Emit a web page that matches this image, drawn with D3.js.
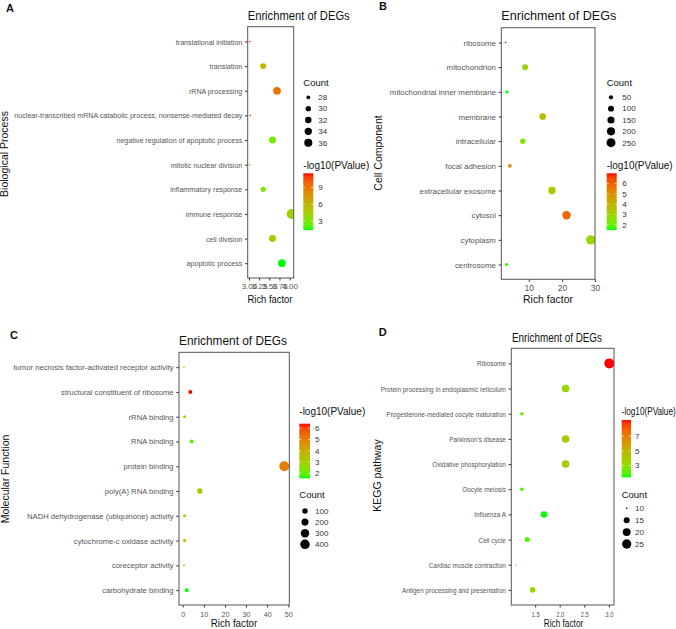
<!DOCTYPE html>
<html><head><meta charset="utf-8">
<script src="https://cdn.jsdelivr.net/npm/d3@7"></script>
<style>body{margin:0;background:#fff}</style>
</head><body><svg id="c" width="676" height="629" style="background:#fff"></svg>
<script>
// ---------- DATA ----------
const bpTerms = ["translational initiation","translation","rRNA processing","nuclear-transcribed mRNA catabolic process, nonsense-mediated decay","negative regulation of apoptotic process","mitotic nuclear division","inflammatory response","immune response","cell division","apoptotic process"];
const bpRich  = [3.02,3.35,3.69,3.03,3.58,3.02,3.35,4.05,3.58,3.81];
const bpCount = [27,31,35,27,33,27,30,42,33,35];
const bpLogP  = [11.5,6.0,9.2,11.0,2.8,4.0,2.9,4.2,4.4,1.4];
const bpXTicks = [3.00,3.25,3.50,3.75,4.00];
const bpCountBreaks = [28,30,32,34,36];
const bpColorBreaks = [3,6,9];

const ccTerms = ["ribosome","mitochondrion","mitochondrial inner membrane","membrane","intracellular","focal adhesion","extracellular exosome","cytosol","cytoplasm","centrosome"];
const ccRich  = [3.0,8.9,3.4,14.2,8.2,4.3,17.0,21.4,28.7,3.3];
const ccCount = [20,100,30,130,80,40,160,220,280,30];
const ccLogP  = [7.0,3.0,1.5,3.8,2.4,5.0,3.3,6.0,3.0,1.6];
const ccXTicks = [10,20,30];
const ccCountBreaks = [50,100,150,200,250];
const ccColorBreaks = [2,3,4,5,6];

const mfTerms = ["tumor necrosis factor-activated receptor activity","structural constituent of ribosome","rRNA binding","RNA binding","protein binding","poly(A) RNA binding","NADH dehydrogenase (ubiquinone) activity","cytochrome-c oxidase activity","coreceptor activity","carbohydrate binding"];
const mfRich  = [0.6,3.6,0.9,4.2,48.1,8.1,0.9,0.9,0.6,1.9];
const mfCount = [5,42,18,42,460,98,18,18,6,40];
const mfLogP  = [2.0,6.4,2.5,1.9,5.0,3.2,2.6,4.0,2.6,1.55];
const mfXTicks = [0,10,20,30,40,50];
const mfCountBreaks = [100,200,300,400];
const mfColorBreaks = [2,3,4,5,6];

const kgTerms = ["Ribosome","Protein processing in endoplasmic reticulum","Progesterone-mediated oocyte maturation","Parkinson's disease","Oxidative phosphorylation","Oocyte meiosis","Influenza A","Cell cycle","Cardiac muscle contraction","Antigen processing and presentation"];
const kgRich  = [3.01,2.12,1.23,2.12,2.12,1.23,1.68,1.34,1.11,1.45];
const kgCount = [28,19,11,19,19,11,16,13,10,14];
const kgLogP  = [9.2,3.5,2.3,4.2,4.2,1.9,1.4,1.8,2.6,3.5];
const kgXTicks = [1.5,2.0,2.5,3.0];
const kgCountBreaks = [10,15,20,25];
const kgColorBreaks = [3,5,7];

const panelLetters = ["A","B","C","D"];
const yTitles = ["Biological Process","Cell Component","Molecular Function","KEGG pathway"];
const mainTitle = "Enrichment of DEGs";
const xTitle = "Rich factor";
const countTitle = "Count";
const colorTitle = "-log10(PValue)";

// ---------- LAYOUT ----------
const FONT = '"Liberation Sans", Arial, sans-serif';
const panels = [
  {terms:bpTerms, rich:bpRich, count:bpCount, logp:bpLogP, xticks:bpXTicks, cb:bpCountBreaks, pb:bpColorBreaks, fmt:d3.format(".2f"),
   box:{x0:247.7,y0:26.7,x1:293.7,y1:278}, letter:{x:6,y:12}, title:{x:247.7,y:19.5,len:102},
   yt:{x:4.8,y:154}, xt:{cx:270,y:303,len:45}, labFont:8, labK:0.89, tickFont:8, tickK:1, tickPad:2.8,
   rmin:0.8, rmax:5, countFirst:true,
   cl:{x:303.3,titleY:82.3,y0:97.3,dy:11.35,dotX:308.3,labX:318.3},
   pl:{x:303.3,titleY:165,b0:173.3,b1:230,w:10,labX:318.3,len:null}},
  {terms:ccTerms, rich:ccRich, count:ccCount, logp:ccLogP, xticks:ccXTicks, cb:ccCountBreaks, pb:ccColorBreaks, fmt:d3.format("d"),
   box:{x0:501.3,y0:27.7,x1:595,y1:279.3}, letter:{x:379,y:10}, title:{x:501.3,y:20,len:115},
   yt:{x:378.7,y:153}, xt:{cx:548,y:303,len:50}, labFont:8.1, labK:0.97, tickFont:8.5, tickK:1, tickPad:2.8,
   rmin:0.8, rmax:4.7, countFirst:true,
   cl:{x:606.7,titleY:82.3,y0:97.3,dy:11.35,dotX:611,labX:622.3},
   pl:{x:606.7,titleY:165,b0:173.3,b1:230,w:10,labX:622.3,len:null}},
  {terms:mfTerms, rich:mfRich, count:mfCount, logp:mfLogP, xticks:mfXTicks, cb:mfCountBreaks, pb:mfColorBreaks, fmt:d3.format("d"),
   box:{x0:179,y0:352.3,x1:289.3,y1:605}, letter:{x:10,y:339}, title:{x:179,y:345,len:108},
   yt:{x:5.5,y:479}, xt:{cx:234,y:627,len:46.6}, labFont:7.8, labK:0.98, tickFont:8, tickK:0.9, tickPad:3.5,
   rmin:0.8, rmax:5, countFirst:false,
   cl:{x:299.3,titleY:495,y0:511,dy:11.1,dotX:305,labX:315},
   pl:{x:299.3,titleY:411.7,b0:423.7,b1:478.3,w:10.7,labX:315,len:null}},
  {terms:kgTerms, rich:kgRich, count:kgCount, logp:kgLogP, xticks:kgXTicks, cb:kgCountBreaks, pb:kgColorBreaks, fmt:d3.format(".1f"),
   box:{x0:511.3,y0:348.3,x1:614,y1:605}, letter:{x:378.7,y:336}, title:{x:512,y:341.7,len:90},
   yt:{x:377.7,y:475.5}, xt:{cx:563.5,y:627,len:39.6}, labFont:8, labK:0.8, tickFont:7.5, tickK:0.78, tickPad:4.5,
   rmin:0.8, rmax:5, countFirst:false,
   cl:{x:621.7,titleY:494.3,y0:508.3,dy:11.9,dotX:626.7,labX:635},
   pl:{x:621.7,titleY:411,b0:420,b1:477.3,w:9.3,labX:635,len:54}}
];

const svg = d3.select("#c");
const defs = svg.append("defs");

function condense(sel, k){
  if (k >= 1) return;
  sel.each(function(){
    const L = this.getComputedTextLength();
    d3.select(this).attr("textLength", L*k).attr("lengthAdjust","spacingAndGlyphs");
  });
}

panels.forEach((p, i) => {
  const g = svg.append("g");
  const ext = d3.extent(p.rich), pad = (ext[1]-ext[0])*0.05;
  const x = d3.scaleLinear().domain([ext[0]-pad, ext[1]+pad]).range([p.box.x0, p.box.x1]);
  const y = d3.scalePoint().domain(p.terms).range([p.box.y0, p.box.y1]).padding(0.6);
  const cExt = d3.extent(p.logp);
  const color = d3.scaleLinear().domain(cExt).range(["#00ff00","#ff0000"]).interpolate(d3.interpolateLab);
  const nExt = d3.extent(p.count);
  const tS = d3.scaleLinear().domain(nExt).range([0,1]);
  const rS = d3.scaleLinear().domain([0,1]).range([p.rmin, p.rmax]);
  const size = c => rS(Math.sqrt(Math.max(0, tS(c))));

  // panel letter
  g.append("text").attr("x", p.letter.x).attr("y", p.letter.y).text(panelLetters[i])
    .attr("font-family", FONT).attr("font-size", 11).attr("font-weight","bold").attr("fill","#111");
  // title
  g.append("text").attr("x", p.title.x).attr("y", p.title.y).text(mainTitle)
    .attr("font-family", FONT).attr("font-size", 13).attr("fill","#111")
    .attr("textLength", p.title.len).attr("lengthAdjust","spacingAndGlyphs");

  // y axis
  const gy = g.append("g").attr("transform", `translate(${p.box.x0},0)`)
    .call(d3.axisLeft(y).tickSize(2.7).tickPadding(2.7));
  gy.select(".domain").remove();
  gy.attr("font-family", FONT).attr("font-size", p.labFont).style("color","#333");
  gy.selectAll("text").attr("fill","#555");
  condense(gy.selectAll("text"), p.labK);

  // x axis
  const gx = g.append("g").attr("transform", `translate(0,${p.box.y1})`)
    .call(d3.axisBottom(x).tickValues(p.xticks).tickFormat(p.fmt).tickSize(2.5).tickPadding(p.tickPad));
  gx.select(".domain").remove();
  gx.attr("font-family", FONT).attr("font-size", p.tickFont).style("color","#333");
  gx.selectAll("text").attr("fill","#555");
  condense(gx.selectAll("text"), p.tickK);

  // points (clipped to panel)
  const cid = "clip" + i;
  defs.append("clipPath").attr("id", cid).append("rect")
    .attr("x", p.box.x0).attr("y", p.box.y0)
    .attr("width", p.box.x1 - p.box.x0).attr("height", p.box.y1 - p.box.y0);
  g.append("g").attr("clip-path", `url(#${cid})`)
    .selectAll("circle").data(p.terms).join("circle")
    .attr("cx", (d, j) => x(p.rich[j]))
    .attr("cy", d => y(d))
    .attr("r", (d, j) => size(p.count[j]))
    .attr("fill", (d, j) => color(p.logp[j]));

  // panel border
  g.append("rect").attr("x", p.box.x0).attr("y", p.box.y0)
    .attr("width", p.box.x1 - p.box.x0).attr("height", p.box.y1 - p.box.y0)
    .attr("fill","none").attr("stroke","#555").attr("stroke-width",1);

  // axis titles
  g.append("text").attr("x", p.xt.cx).attr("y", p.xt.y).attr("text-anchor","middle").text(xTitle)
    .attr("font-family", FONT).attr("font-size", 10.5).attr("fill","#111")
    .attr("textLength", p.xt.len).attr("lengthAdjust","spacingAndGlyphs");
  g.append("text").attr("transform", `translate(${p.yt.x},${p.yt.y}) rotate(-90)`)
    .attr("text-anchor","middle").attr("dy","0.35em").text(yTitles[i])
    .attr("font-family", FONT).attr("font-size", 10.5).attr("fill","#111");

  // count legend
  const cl = p.cl;
  const lg = g.append("g").attr("font-family", FONT);
  lg.append("text").attr("x", cl.x).attr("y", cl.titleY).attr("dy","0.35em").text(countTitle)
    .attr("font-size", 9.5).attr("fill","#111");
  p.cb.forEach((b, k) => {
    const yy = cl.y0 + k*cl.dy;
    lg.append("circle").attr("cx", cl.dotX).attr("cy", yy).attr("r", size(b)).attr("fill","#000");
    lg.append("text").attr("x", cl.labX).attr("y", yy).attr("dy","0.35em").text(b)
      .attr("font-size", 8).attr("fill","#333");
  });

  // color legend
  const pl = p.pl;
  const gid = "grad" + i;
  const grad = defs.append("linearGradient").attr("id", gid)
    .attr("x1",0).attr("y1",1).attr("x2",0).attr("y2",0);
  d3.range(0, 1.0001, 0.05).forEach(t => {
    grad.append("stop").attr("offset", t)
      .attr("stop-color", color(cExt[0] + t*(cExt[1]-cExt[0])));
  });
  const pg = g.append("g").attr("font-family", FONT);
  const tt = pg.append("text").attr("x", pl.x).attr("y", pl.titleY).attr("dy","0.35em").text(colorTitle)
    .attr("font-size", 10).attr("fill","#111");
  if (pl.len) tt.attr("textLength", pl.len).attr("lengthAdjust","spacingAndGlyphs");
  pg.append("rect").attr("x", pl.x).attr("y", pl.b0).attr("width", pl.w).attr("height", pl.b1 - pl.b0)
    .attr("fill", `url(#${gid})`);
  const by = d3.scaleLinear().domain(cExt).range([pl.b1, pl.b0]);
  p.pb.forEach(b => {
    const yy = by(b);
    pg.append("line").attr("x1", pl.x).attr("x2", pl.x + 2).attr("y1", yy).attr("y2", yy)
      .attr("stroke","#fff").attr("stroke-width",0.8).attr("opacity",0.8);
    pg.append("line").attr("x1", pl.x + pl.w - 2).attr("x2", pl.x + pl.w).attr("y1", yy).attr("y2", yy)
      .attr("stroke","#fff").attr("stroke-width",0.8).attr("opacity",0.8);
    pg.append("text").attr("x", pl.labX).attr("y", yy).attr("dy","0.35em").text(b)
      .attr("font-size", 8).attr("fill","#333");
  });
});
</script>
</body></html>
